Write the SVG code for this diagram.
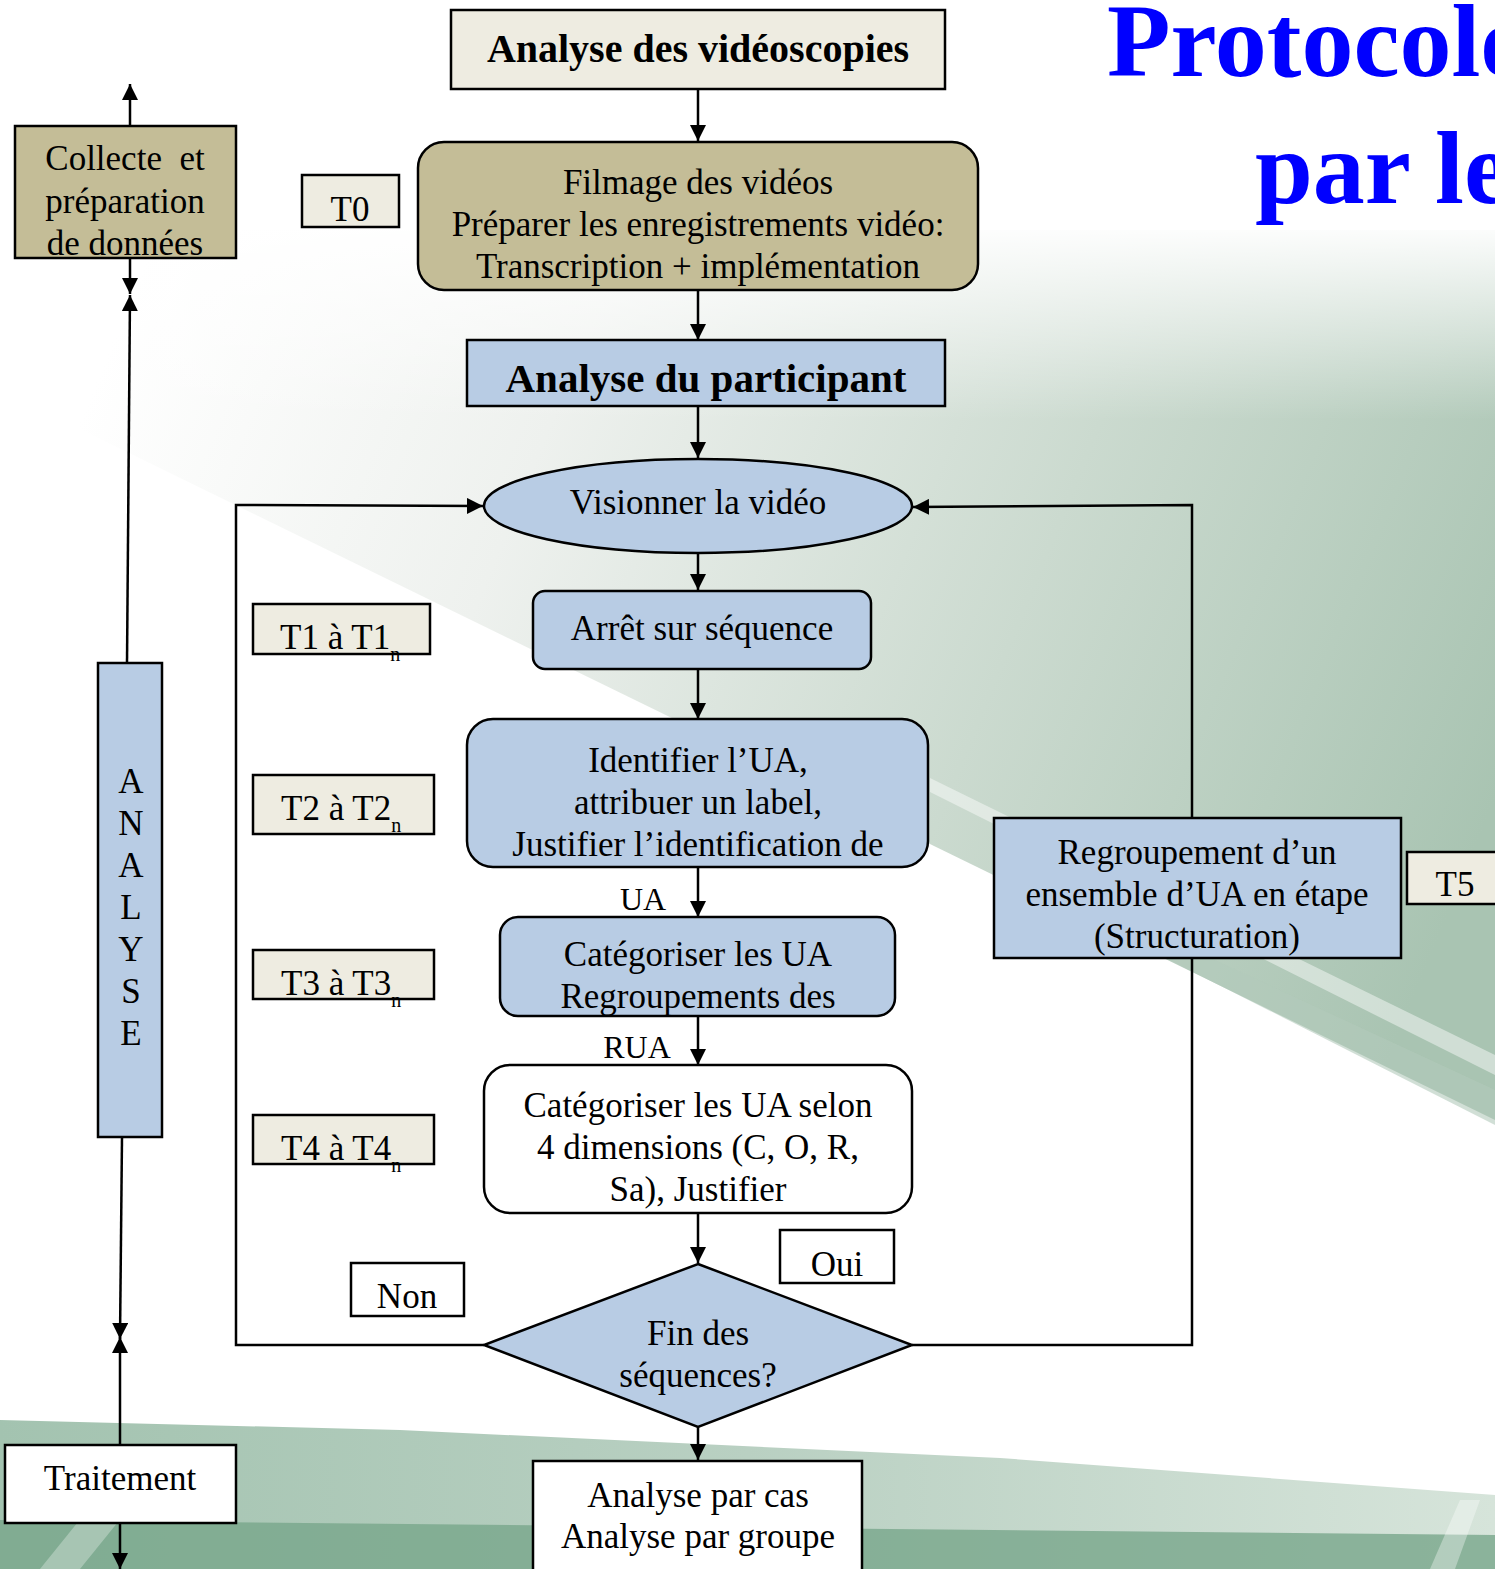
<svg xmlns="http://www.w3.org/2000/svg" width="1495" height="1569" viewBox="0 0 1495 1569">
<defs>
<linearGradient id="sw" x1="150" y1="250" x2="1495" y2="800" gradientUnits="userSpaceOnUse">
<stop offset="0" stop-color="#ffffff"/>
<stop offset="0.3" stop-color="#eef1ee"/>
<stop offset="0.65" stop-color="#cbdacf"/>
<stop offset="1" stop-color="#a9c4b2"/>
</linearGradient>
<linearGradient id="fadeTop" x1="0" y1="220" x2="0" y2="420" gradientUnits="userSpaceOnUse">
<stop offset="0" stop-color="#ffffff" stop-opacity="1"/>
<stop offset="1" stop-color="#ffffff" stop-opacity="0"/>
</linearGradient>
<linearGradient id="band" x1="0" y1="0" x2="1" y2="0">
<stop offset="0" stop-color="#a3c3b0"/>
<stop offset="0.5" stop-color="#b9d0c2"/>
<stop offset="1" stop-color="#d6e4da"/>
</linearGradient>
<marker id="ahb" viewBox="0 0 10 10" refX="10" refY="5" markerWidth="16" markerHeight="16" markerUnits="userSpaceOnUse" orient="auto">
<path d="M0,0 L10,5 L0,10 z" fill="#000"/>
</marker>
<style>
.t{font-family:"Liberation Serif","Times New Roman",serif;fill:#000;text-anchor:middle}
.s35{font-size:35px}
.s32{font-size:32px}
.bx{stroke:#000;stroke-width:2.5}
.ln{stroke:#000;stroke-width:2.5;fill:none}
.tan{fill:#C4BD97}
.blu{fill:#B8CCE4}
.crm{fill:#EEECE1}
.wht{fill:#fff}
</style>
</defs>
<rect width="1495" height="1569" fill="#fff"/>
<polygon points="0,230 1495,230 1495,1120 0,390" fill="url(#sw)"/>
<rect x="0" y="220" width="1495" height="200" fill="url(#fadeTop)"/>
<polygon points="930,778 1495,1055 1495,1075 930,792" fill="#fff" opacity="0.45"/>
<polygon points="1150,930 1495,1090 1495,1125 1150,950" fill="#b3c9ba" opacity="0.6"/>
<polygon points="0,1420 400,1430 1000,1458 1495,1495 1495,1569 0,1569" fill="url(#band)"/>
<polygon points="0,1520 1495,1535 1495,1569 0,1569" fill="#78a68b" opacity="0.8"/>
<polygon points="40,1569 120,1470 160,1470 80,1569" fill="#fff" opacity="0.3"/>
<polygon points="1430,1569 1460,1500 1480,1500 1455,1569" fill="#fff" opacity="0.35"/>

<text x="1107" y="76" font-family="Liberation Serif,serif" font-weight="bold" font-size="104" fill="#0000FF">Protocole</text>
<text x="1255" y="203" font-family="Liberation Serif,serif" font-weight="bold" font-size="104" fill="#0000FF">par les</text>

<g id="connectors">
<line class="ln" x1="698" y1="89" x2="698" y2="141" marker-end="url(#ahb)"/>
<line class="ln" x1="698" y1="290" x2="698" y2="340" marker-end="url(#ahb)"/>
<line class="ln" x1="698" y1="406" x2="698" y2="458" marker-end="url(#ahb)"/>
<line class="ln" x1="698" y1="553" x2="698" y2="590" marker-end="url(#ahb)"/>
<line class="ln" x1="698" y1="669" x2="698" y2="719" marker-end="url(#ahb)"/>
<line class="ln" x1="698" y1="867" x2="698" y2="917" marker-end="url(#ahb)"/>
<line class="ln" x1="698" y1="1016" x2="698" y2="1065" marker-end="url(#ahb)"/>
<line class="ln" x1="698" y1="1213" x2="698" y2="1263" marker-end="url(#ahb)"/>
<line class="ln" x1="698" y1="1427" x2="698" y2="1460" marker-end="url(#ahb)"/>
<polyline class="ln" points="484,1345 236,1345 236,505 483,506" marker-end="url(#ahb)"/>
<polyline class="ln" points="912,1345 1192,1345 1192,505 913,507" marker-end="url(#ahb)"/>
<line class="ln" x1="130" y1="126" x2="130" y2="84" marker-end="url(#ahb)"/>
<line class="ln" x1="130" y1="258" x2="130" y2="294" marker-end="url(#ahb)"/>
<line class="ln" x1="127" y1="663" x2="130" y2="295" marker-end="url(#ahb)"/>
<line class="ln" x1="122" y1="1137" x2="120" y2="1339" marker-end="url(#ahb)"/>
<line class="ln" x1="120" y1="1445" x2="120" y2="1337" marker-end="url(#ahb)"/>
<line class="ln" x1="120" y1="1523" x2="120" y2="1569" marker-end="url(#ahb)"/>
<text class="t s32" x="643" y="910">UA</text>
<text class="t s32" x="637" y="1058">RUA</text>
</g>

<g id="n-title">
<rect class="bx crm" x="451" y="10" width="494" height="79"/>
<text class="t" x="698" y="62" font-size="40" font-weight="bold">Analyse des vidéoscopies</text>
</g>
<g id="n-filmage">
<rect class="bx tan" x="418" y="142" width="560" height="148" rx="26"/>
<text class="t s35" x="698" y="194">Filmage des vidéos</text>
<text class="t s35" x="698" y="236">Préparer les enregistrements vidéo:</text>
<text class="t s35" x="698" y="278">Transcription + implémentation</text>
</g>
<g id="n-participant">
<rect class="bx blu" x="467" y="340" width="478" height="66"/>
<text class="t" x="706" y="392" font-size="41" font-weight="bold">Analyse du participant</text>
</g>
<g id="n-visionner">
<ellipse class="bx blu" cx="698" cy="506" rx="214" ry="47"/>
<text class="t s35" x="698" y="514">Visionner la vidéo</text>
</g>
<g id="n-arret">
<rect class="bx blu" x="533" y="591" width="338" height="78" rx="12"/>
<text class="t s35" x="702" y="640">Arrêt sur séquence</text>
</g>
<g id="n-identifier">
<rect class="bx blu" x="467" y="719" width="461" height="148" rx="26"/>
<text class="t s35" x="698" y="772">Identifier l’UA,</text>
<text class="t s35" x="698" y="814">attribuer un label,</text>
<text class="t s35" x="698" y="856">Justifier l’identification de</text>
</g>
<g id="n-categoriser">
<rect class="bx blu" x="500" y="917" width="395" height="99" rx="18"/>
<text class="t s35" x="698" y="966">Catégoriser les UA</text>
<text class="t s35" x="698" y="1008">Regroupements des</text>
</g>
<g id="n-dimensions">
<rect class="bx wht" x="484" y="1065" width="428" height="148" rx="26"/>
<text class="t s35" x="698" y="1117">Catégoriser les UA selon</text>
<text class="t s35" x="698" y="1159">4 dimensions (C, O, R,</text>
<text class="t s35" x="698" y="1201">Sa), Justifier</text>
</g>
<g id="n-fin">
<polygon class="bx blu" points="698,1264 912,1345 698,1427 484,1345"/>
<text class="t s35" x="698" y="1345">Fin des</text>
<text class="t s35" x="698" y="1387">séquences?</text>
</g>
<g id="n-resultat">
<rect class="bx wht" x="533" y="1461" width="329" height="112"/>
<text class="t s35" x="698" y="1507">Analyse par cas</text>
<text class="t s35" x="698" y="1548">Analyse par groupe</text>
</g>
<g id="n-regroupement">
<rect class="bx blu" x="994" y="818" width="407" height="140"/>
<text class="t s35" x="1197" y="864">Regroupement d’un</text>
<text class="t s35" x="1197" y="906">ensemble d’UA en étape</text>
<text class="t s35" x="1197" y="948">(Structuration)</text>
</g>
<g id="n-t5">
<rect class="bx crm" x="1407" y="852" width="92" height="52"/>
<text class="t s35" x="1455" y="896">T5</text>
</g>
<g id="n-t0">
<rect class="bx crm" x="302" y="175" width="97" height="52"/>
<text class="t s35" x="350" y="221">T0</text>
</g>
<g id="n-t1">
<rect class="bx crm" x="253" y="604" width="177" height="50"/>
<text class="t s35" x="280" y="649" style="text-anchor:start">T1 à T1<tspan font-size="20" dy="12">n</tspan></text>
</g>
<g id="n-t2">
<rect class="bx crm" x="253" y="775" width="181" height="59"/>
<text class="t s35" x="281" y="820" style="text-anchor:start">T2 à T2<tspan font-size="20" dy="12">n</tspan></text>
</g>
<g id="n-t3">
<rect class="bx crm" x="253" y="950" width="181" height="49"/>
<text class="t s35" x="281" y="995" style="text-anchor:start">T3 à T3<tspan font-size="20" dy="12">n</tspan></text>
</g>
<g id="n-t4">
<rect class="bx crm" x="253" y="1115" width="181" height="49"/>
<text class="t s35" x="281" y="1160" style="text-anchor:start">T4 à T4<tspan font-size="20" dy="12">n</tspan></text>
</g>
<g id="n-non">
<rect class="bx wht" x="351" y="1263" width="113" height="53"/>
<text class="t s35" x="407" y="1308">Non</text>
</g>
<g id="n-oui">
<rect class="bx wht" x="780" y="1230" width="114" height="53"/>
<text class="t s35" x="837" y="1276">Oui</text>
</g>
<g id="n-collecte">
<rect class="bx tan" x="15" y="126" width="221" height="132"/>
<text class="t s35" x="125" y="170" style="white-space:pre">Collecte  et</text>
<text class="t s35" x="125" y="213">préparation</text>
<text class="t s35" x="125" y="255">de données</text>
</g>
<g id="n-analyse">
<rect class="bx blu" x="98" y="663" width="64" height="474"/>
<text class="t s35" x="131" y="793">A</text>
<text class="t s35" x="131" y="835">N</text>
<text class="t s35" x="131" y="877">A</text>
<text class="t s35" x="131" y="919">L</text>
<text class="t s35" x="131" y="961">Y</text>
<text class="t s35" x="131" y="1003">S</text>
<text class="t s35" x="131" y="1045">E</text>
</g>
<g id="n-traitement">
<rect class="bx wht" x="5" y="1445" width="231" height="78"/>
<text class="t s35" x="120" y="1490">Traitement</text>
</g>
</svg>
